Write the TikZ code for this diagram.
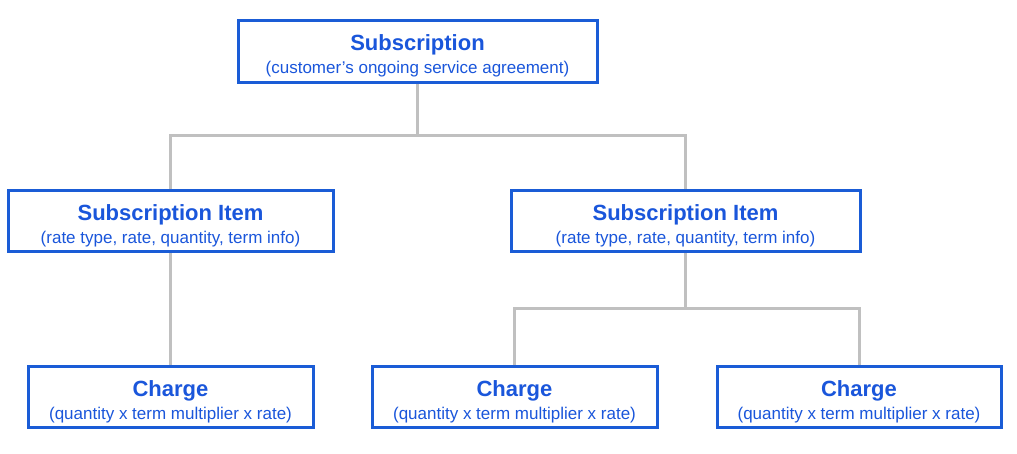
\documentclass[tikz,border=0pt]{standalone}
\usepackage{fontspec}
\setmainfont{Liberation Sans}
\usetikzlibrary{backgrounds}
\definecolor{boxblue}{RGB}{26,92,214}
\definecolor{txtblue}{RGB}{26,86,219}
\definecolor{linegray}{RGB}{192,192,192}
\tikzset{
  box/.style={draw=boxblue, line width=3pt, fill=white, align=center, text=txtblue, inner sep=0pt},
  conn/.style={draw=linegray, line width=3pt},
}
\newcommand{\ttl}[1]{{\fontsize{22}{24}\selectfont\bfseries\rule{0pt}{26pt}#1}}
\newcommand{\sub}[1]{{\fontsize{17}{20}\selectfont #1}}
\begin{document}
\begin{tikzpicture}[x=1pt,y=-1pt]
\useasboundingbox (0,0) rectangle (1017,453);
\node[box, minimum width=359pt, minimum height=62pt] (top) at (417.5,51) {\ttl{Subscription}\\[5pt]\sub{(customer's ongoing service agreement)}};
\node[box, minimum width=325pt, minimum height=61pt] (l) at (170.5,220.5) {\ttl{Subscription Item}\\[5pt]\sub{(rate type, rate, quantity, term info)}};
\node[box, minimum width=349pt, minimum height=61pt] (r) at (685.5,220.5) {\ttl{Subscription Item}\\[5pt]\sub{(rate type, rate, quantity, term info)}};
\node[box, minimum width=285pt, minimum height=61pt] (c1) at (170.5,396.5) {\ttl{Charge}\\[5pt]\sub{(quantity x term multiplier x rate)}};
\node[box, minimum width=285pt, minimum height=61pt] (c2) at (514.5,396.5) {\ttl{Charge}\\[5pt]\sub{(quantity x term multiplier x rate)}};
\node[box, minimum width=284pt, minimum height=61pt] (c3) at (859,396.5) {\ttl{Charge}\\[5pt]\sub{(quantity x term multiplier x rate)}};
\coordinate (j1) at (417.5,135);
\coordinate (j2) at (685.5,308);
\begin{scope}[on background layer]
\draw[conn] (top) -- (j1) -| (l);
\draw[conn] (j1) -| (r);
\draw[conn] (l) -- (c1);
\draw[conn] (r) -- (j2) -| (c2);
\draw[conn] (j2) -| (c3);
\end{scope}
\end{tikzpicture}
\end{document}
